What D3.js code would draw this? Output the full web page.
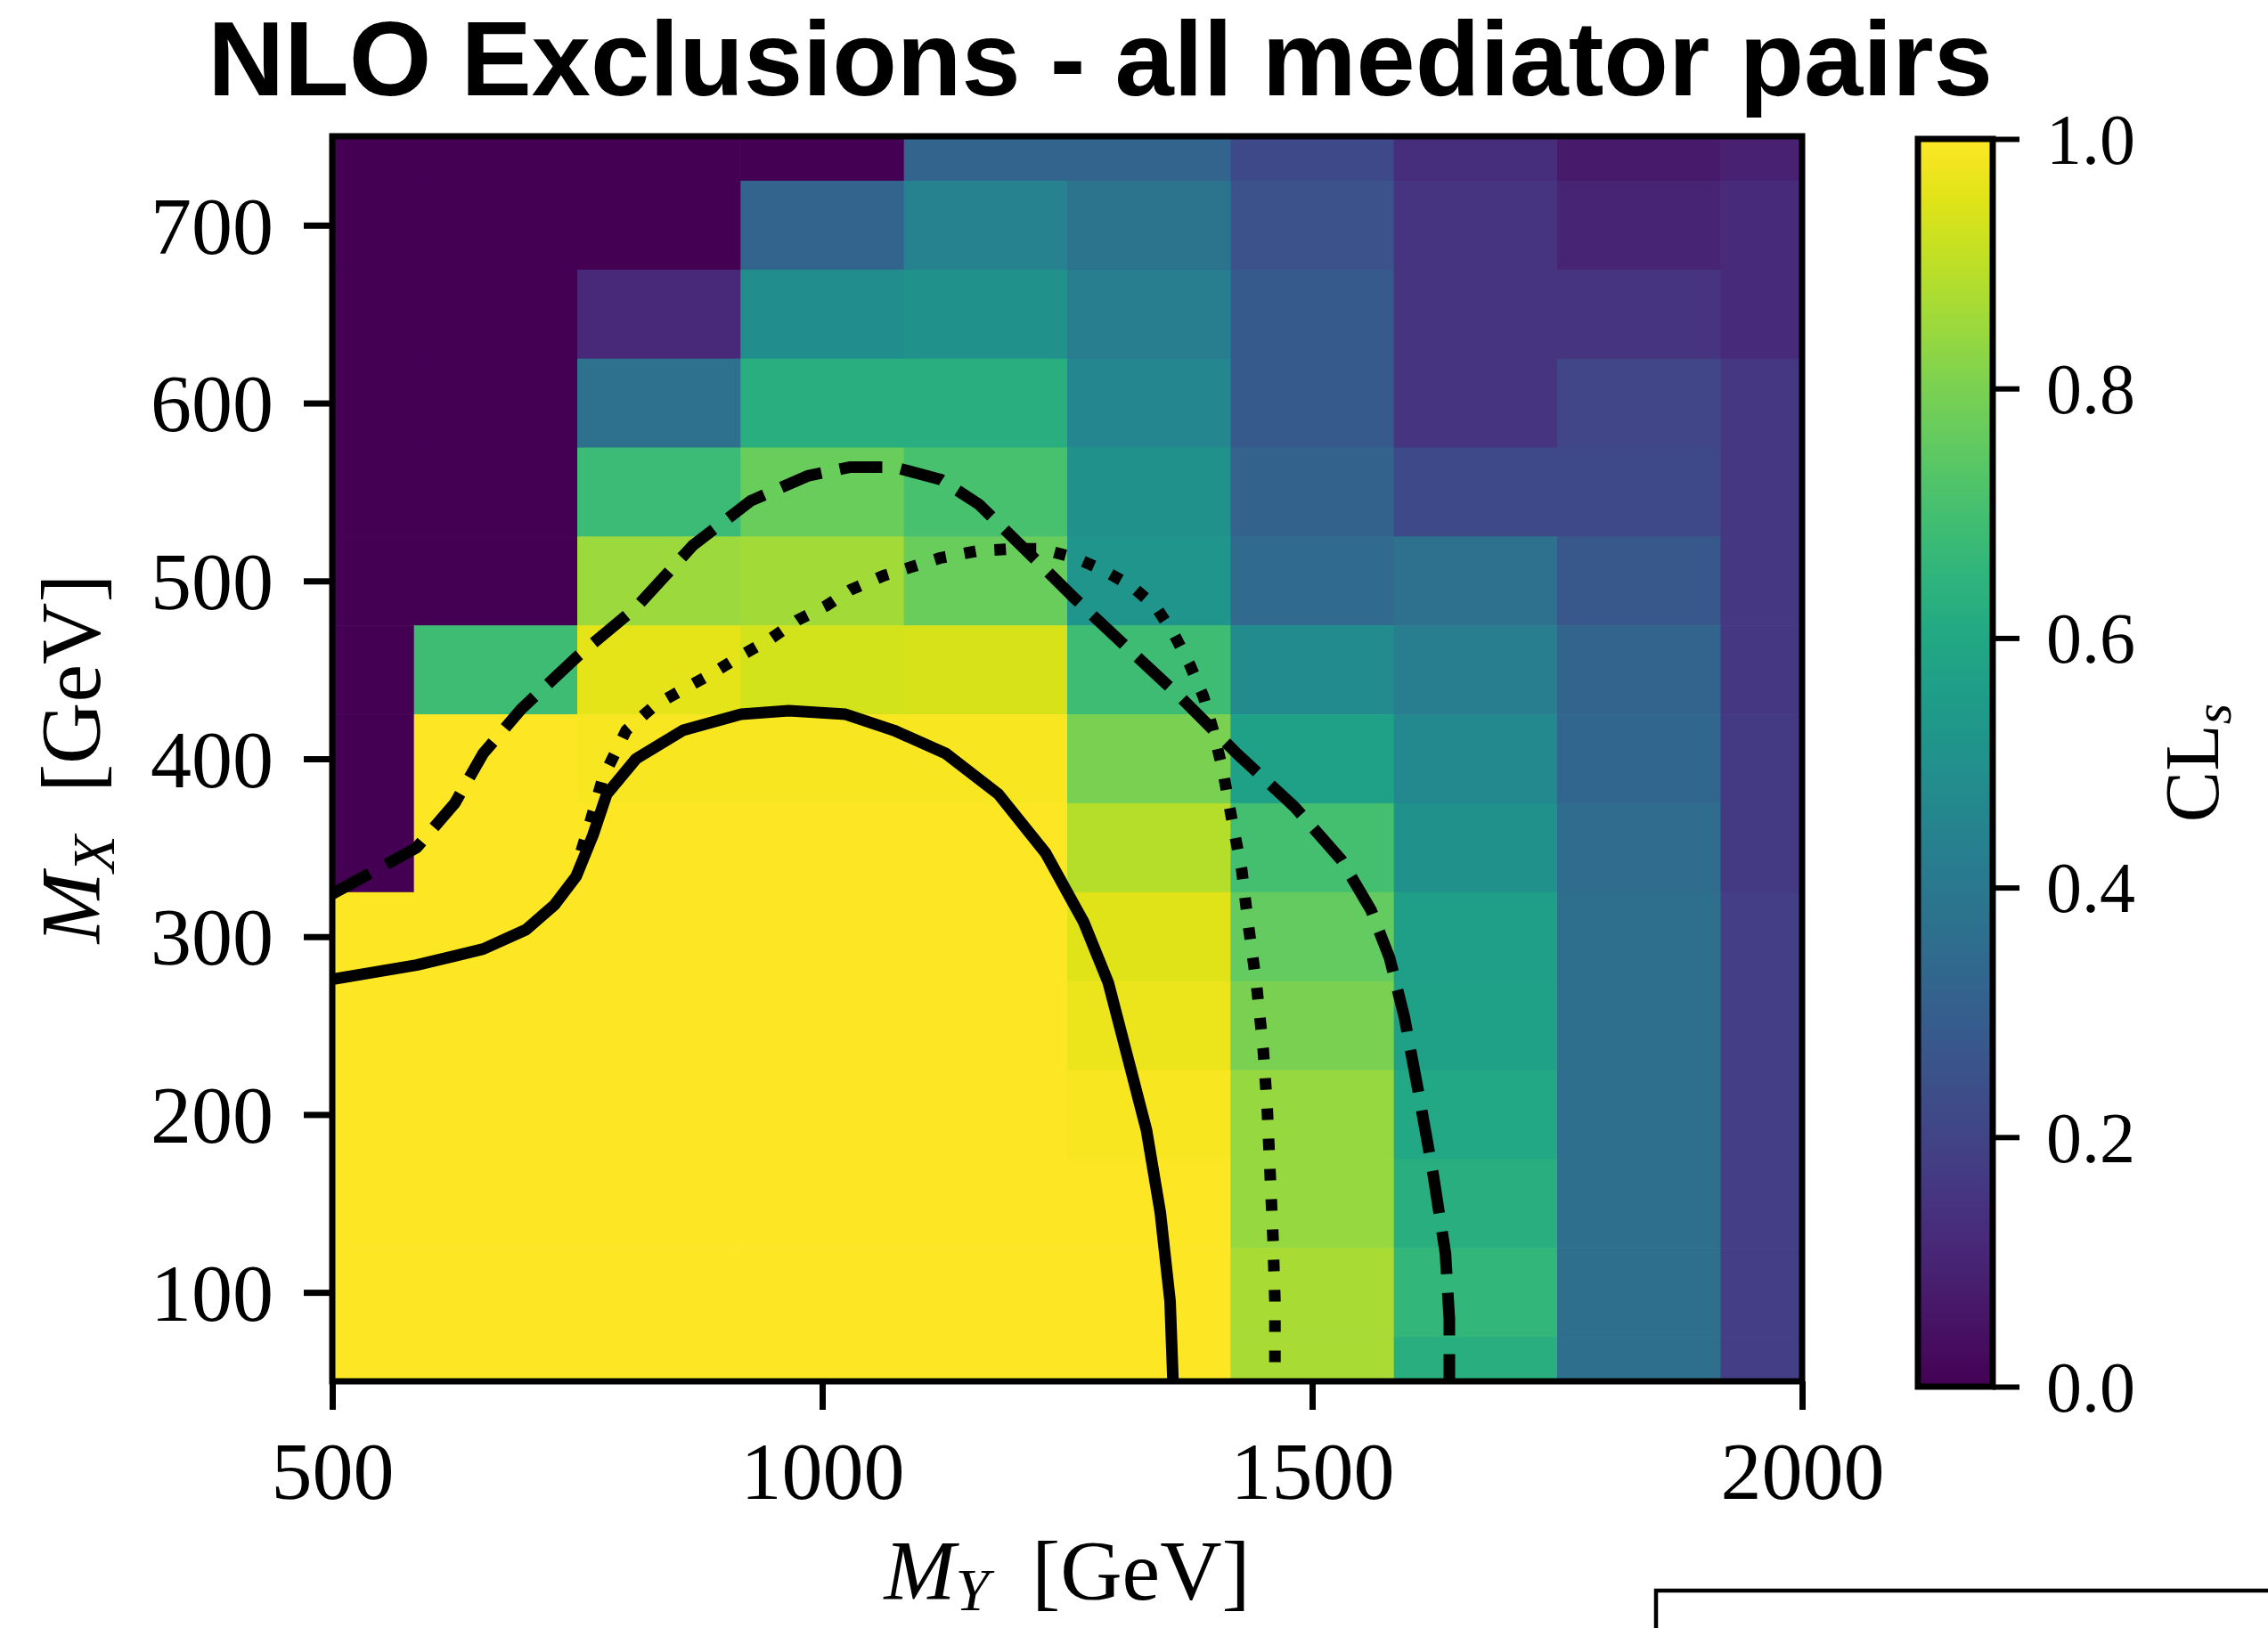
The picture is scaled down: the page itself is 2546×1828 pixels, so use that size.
<html>
<head>
<script src="https://cdnjs.cloudflare.com/ajax/libs/d3/7.8.5/d3.min.js"></script>
<style>
  html, body { margin: 0; padding: 0; background: #fff; }
  svg { display: block; }
  .serif { font-family: "Liberation Serif", "Times New Roman", serif; }
</style>
</head>
<body>
<div id="chart"></div>
<script>
// grid centres (M_Y along x, M_X along y)
const myCenters = [500, 666.67, 833.33, 1000, 1166.67, 1333.33, 1500, 1666.67, 1833.33, 2000];
const mxCenters = [750, 700, 650, 600, 550, 500, 450, 400, 350, 300, 250, 200, 150, 100, 50];

// CLs per row (top row = 750 GeV)
const cls = [
  [0, 0, 0, 0, 0.32, 0.32, 0.22, 0.13, 0.07, 0.09],
  [0, 0, 0, 0.32, 0.44, 0.38, 0.25, 0.15, 0.10, 0.12],
  [0, 0, 0.11, 0.49, 0.50, 0.42, 0.28, 0.15, 0.15, 0.12],
  [0, 0, 0.37, 0.63, 0.63, 0.46, 0.28, 0.15, 0.21, 0.16],
  [0, 0, 0.68, 0.77, 0.71, 0.50, 0.31, 0.22, 0.22, 0.16],
  [0, 0, 0.85, 0.86, 0.77, 0.52, 0.34, 0.37, 0.27, 0.16],
  [0, 0.69, 0.96, 0.93, 0.94, 0.69, 0.48, 0.42, 0.32, 0.16],
  [0, 1.0, 0.99, 0.99, 0.99, 0.80, 0.57, 0.47, 0.33, 0.17],
  [0, 1.0, 1.0, 1.0, 1.0, 0.89, 0.70, 0.50, 0.35, 0.17],
  [1.0, 1.0, 1.0, 1.0, 1.0, 0.95, 0.76, 0.56, 0.36, 0.18],
  [1.0, 1.0, 1.0, 1.0, 1.0, 0.97, 0.80, 0.57, 0.36, 0.18],
  [1.0, 1.0, 1.0, 1.0, 1.0, 0.99, 0.84, 0.60, 0.36, 0.18],
  [1.0, 1.0, 1.0, 1.0, 1.0, 1.0, 0.84, 0.63, 0.36, 0.18],
  [1.0, 1.0, 1.0, 1.0, 1.0, 1.0, 0.87, 0.66, 0.36, 0.18],
  [1.0, 1.0, 1.0, 1.0, 1.0, 1.0, 0.87, 0.63, 0.36, 0.18]
];

// exclusion contours [M_Y, M_X]
const solidLine = [
  [500, 276], [586, 284], [654, 293], [698, 304], [727, 318], [749, 334], [766, 357],
  [780, 380], [810, 400], [858, 416], [917, 425], [966, 427], [1024, 425], [1073, 416],
  [1126, 403], [1180, 380], [1228, 347], [1267, 308], [1292, 274], [1316, 223],
  [1331, 191], [1345, 145], [1355, 95], [1358, 50]
];
const dashedLine = [
  [500, 324], [586, 350], [625, 375], [654, 403], [693, 428], [751, 458], [810, 485],
  [868, 520], [927, 545], [985, 559], [1029, 564], [1073, 564], [1121, 557], [1160, 543],
  [1199, 522], [1258, 490], [1316, 460], [1365, 435], [1423, 403], [1482, 373],
  [1530, 343], [1560, 315], [1579, 288], [1594, 255], [1608, 214], [1623, 168],
  [1636, 122], [1640, 85], [1640, 50]
];
const dottedLine = [
  [754, 348], [764, 366], [776, 389], [800, 416], [829, 430], [858, 439], [888, 448],
  [917, 458], [946, 467], [975, 478], [1004, 486], [1029, 495], [1063, 503], [1092, 508],
  [1121, 513], [1160, 517], [1194, 518], [1224, 518], [1258, 513], [1287, 506],
  [1316, 497], [1341, 485], [1360, 469], [1375, 453], [1389, 435], [1399, 416],
  [1409, 393], [1418, 366], [1428, 338], [1435, 306], [1443, 274], [1450, 237],
  [1454, 205], [1457, 168], [1460, 131], [1462, 95], [1462, 50]
];

const xTicks = [500, 1000, 1500, 2000];
const yTicks = [100, 200, 300, 400, 500, 600, 700];
const cbTicks = [0, 0.2, 0.4, 0.6, 0.8, 1.0];

const W = 2546, H = 1828;
const plot = { left: 373, right: 2023, top: 153, bottom: 1551 };
const cb = { left: 2153, right: 2237, top: 156, bottom: 1557 };

const svg = d3.select("#chart").append("svg")
  .attr("width", W).attr("height", H);

const x = d3.scaleLinear().domain([500, 2000]).range([plot.left, plot.right]);
const y = d3.scaleLinear().domain([50, 750]).range([plot.bottom, plot.top]);
const color = d3.scaleSequential(d3.interpolateViridis).domain([0, 1]);

// cell edges = midpoints between centres
function edges(c) {
  const e = [];
  for (let i = 0; i < c.length; i++) {
    const prev = i > 0 ? c[i - 1] : c[i] - (c[i + 1] - c[i]);
    const next = i < c.length - 1 ? c[i + 1] : c[i] + (c[i] - c[i - 1]);
    e.push([(prev + c[i]) / 2, (c[i] + next) / 2]);
  }
  return e;
}
const xe = edges(myCenters), ye = edges(mxCenters);

svg.append("clipPath").attr("id", "clip")
  .append("rect")
  .attr("x", plot.left).attr("y", plot.top)
  .attr("width", plot.right - plot.left).attr("height", plot.bottom - plot.top);

const cells = [];
cls.forEach((row, j) => row.forEach((v, i) => cells.push({ i, j, v })));

const g = svg.append("g").attr("clip-path", "url(#clip)");
g.selectAll("rect.cell").data(cells).join("rect")
  .attr("class", "cell")
  .attr("x", d => x(Math.min(xe[d.i][0], xe[d.i][1])))
  .attr("width", d => Math.abs(x(xe[d.i][1]) - x(xe[d.i][0])) + 0.6)
  .attr("y", d => y(Math.max(ye[d.j][0], ye[d.j][1])))
  .attr("height", d => Math.abs(y(ye[d.j][1]) - y(ye[d.j][0])) + 0.6)
  .attr("fill", d => color(d.v));

const line = d3.line().x(d => x(d[0])).y(d => y(d[1]));
const lw = 13;
g.append("path").datum(solidLine).attr("d", line)
  .attr("fill", "none").attr("stroke", "#000").attr("stroke-width", lw)
  .attr("stroke-linejoin", "round");
g.append("path").datum(dashedLine).attr("d", line)
  .attr("fill", "none").attr("stroke", "#000").attr("stroke-width", lw)
  .attr("stroke-dasharray", "48,21").attr("stroke-linejoin", "round");
g.append("path").datum(dottedLine).attr("d", line)
  .attr("fill", "none").attr("stroke", "#000").attr("stroke-width", lw)
  .attr("stroke-dasharray", "13,21").attr("stroke-linejoin", "round");

// axes
const tickFont = 92;
const xAxis = svg.append("g").attr("transform", `translate(0,${plot.bottom})`)
  .call(d3.axisBottom(x).tickValues(xTicks).tickSize(32).tickPadding(34).tickFormat(d3.format("d")));
const yAxis = svg.append("g").attr("transform", `translate(${plot.left},0)`)
  .call(d3.axisLeft(y).tickValues(yTicks).tickSize(32).tickPadding(34).tickFormat(d3.format("d")));
[xAxis, yAxis].forEach(a => {
  a.select(".domain").remove();
  a.selectAll(".tick line").attr("stroke", "#000").attr("stroke-width", 7);
  a.selectAll(".tick text").attr("class", "serif").attr("font-size", tickFont).attr("fill", "#000");
});
xAxis.selectAll(".tick text").attr("dy", "0.72em");
yAxis.selectAll(".tick text").attr("dy", "0.34em");

svg.append("rect")
  .attr("x", plot.left).attr("y", plot.top)
  .attr("width", plot.right - plot.left).attr("height", plot.bottom - plot.top)
  .attr("fill", "none").attr("stroke", "#000").attr("stroke-width", 7);

// axis labels
const xl = svg.append("text").attr("class", "serif")
  .attr("x", (plot.left + plot.right) / 2).attr("y", 1796)
  .attr("text-anchor", "middle").attr("font-size", 96);
xl.append("tspan").attr("font-style", "italic").text("M");
xl.append("tspan").attr("font-style", "italic").attr("font-size", 68).attr("dy", 12).text("Y");
xl.append("tspan").attr("dy", -12).text("\u2002[GeV]");

const yl = svg.append("text").attr("class", "serif")
  .attr("transform", `translate(112,${(plot.top + plot.bottom) / 2}) rotate(-90)`)
  .attr("text-anchor", "middle").attr("font-size", 96);
yl.append("tspan").attr("font-style", "italic").text("M");
yl.append("tspan").attr("font-style", "italic").attr("font-size", 68).attr("dy", 16).text("X");
yl.append("tspan").attr("dy", -16).text("\u2002[GeV]");

// title
svg.append("text")
  .attr("x", 1235).attr("y", 107)
  .attr("text-anchor", "middle")
  .attr("font-family", "'Liberation Sans', Arial, Helvetica, sans-serif")
  .attr("font-weight", "bold").attr("font-size", 119)
  .text("NLO Exclusions - all mediator pairs");

// colorbar
const cbScale = d3.scaleLinear().domain([0, 1]).range([cb.bottom, cb.top]);
const grad = svg.append("defs").append("linearGradient").attr("id", "vir")
  .attr("x1", 0).attr("y1", 1).attr("x2", 0).attr("y2", 0);
d3.range(0, 1.0001, 0.05).forEach(t => {
  grad.append("stop").attr("offset", t).attr("stop-color", color(t));
});
svg.append("rect")
  .attr("x", cb.left).attr("y", cb.top)
  .attr("width", cb.right - cb.left).attr("height", cb.bottom - cb.top)
  .attr("fill", "url(#vir)").attr("stroke", "#000").attr("stroke-width", 7);
const cbAxis = svg.append("g").attr("transform", `translate(${cb.right},0)`)
  .call(d3.axisRight(cbScale).tickValues(cbTicks).tickSize(30).tickPadding(30).tickFormat(d3.format(".1f")));
cbAxis.select(".domain").remove();
cbAxis.selectAll(".tick line").attr("stroke", "#000").attr("stroke-width", 6);
cbAxis.selectAll(".tick text").attr("class", "serif").attr("font-size", 80).attr("fill", "#000").attr("dy", "0.34em");

const cl = svg.append("text").attr("class", "serif")
  .attr("transform", `translate(2490,${(cb.top + cb.bottom) / 2}) rotate(-90)`)
  .attr("text-anchor", "middle").attr("font-size", 86);
cl.append("tspan").text("CL");
cl.append("tspan").attr("font-style", "italic").attr("font-size", 60).attr("dy", 14).text("s");

// legend frame (cut off at the figure edge)
svg.append("rect")
  .attr("x", 1859).attr("y", 1786)
  .attr("width", 800).attr("height", 200)
  .attr("fill", "#fff").attr("stroke", "#000").attr("stroke-width", 4.5);
</script>
</body>
</html>
